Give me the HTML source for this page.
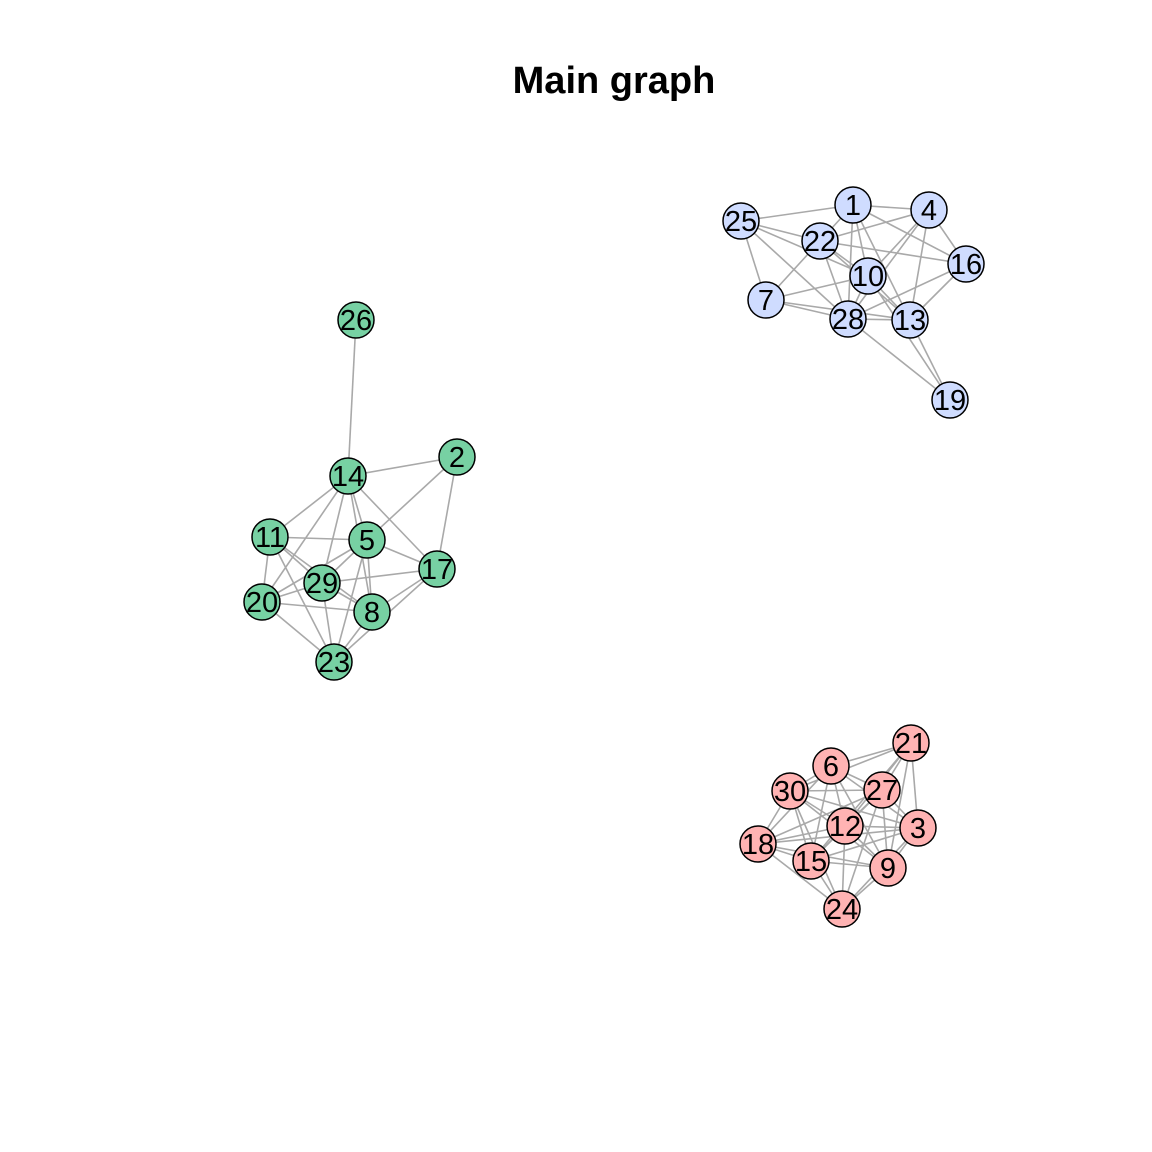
<!DOCTYPE html>
<html><head><meta charset="utf-8"><style>
html,body{margin:0;padding:0;background:#fff;}
svg{display:block;font-family:"Liberation Sans",sans-serif;}
</style></head><body>
<svg id="g" width="1152" height="1152">
<text x="614" y="93" text-anchor="middle" font-size="38" font-weight="bold">Main graph</text>
<g id="edges"></g>
<g id="nodes"></g>
</svg>
<script>
const nodeIds=[26,14,2,11,5,17,29,20,8,23,1,4,25,22,16,10,7,28,13,19,21,6,27,30,12,3,18,15,9,24];
const nodeX=[356,348,457,270,367,437,322,262,372,334,853,929,741,820,966,868,766,848,910,950,911,831,882,790,845,918,758,811,888,842];
const nodeY=[320,476,457,537,540,569,583,602,612,662,205,210,221,241,264,276,300,319,320,400,743,766,790,791,826,828,844,861,868,909];
const nodeGroup=[0,0,0,0,0,0,0,0,0,0,1,1,1,1,1,1,1,1,1,1,2,2,2,2,2,2,2,2,2,2];
const groupColors=["#77d1a3","#cfdcff","#ffb3b3"];
const edges=[[26,14],[14,2],[14,11],[14,5],[14,17],[14,29],[14,20],[14,8],[2,5],[2,17],[11,5],[11,20],[11,29],[11,8],[11,23],[5,29],[5,20],[5,17],[5,8],[5,23],[17,29],[17,8],[17,23],[29,20],[29,8],[29,23],[20,8],[20,23],[8,23],
[25,1],[25,22],[25,10],[25,28],[25,7],[1,4],[1,22],[1,28],[1,10],[1,13],[1,16],[4,22],[4,10],[4,28],[4,13],[4,16],[22,16],[22,7],[22,28],[22,10],[22,13],[10,7],[10,28],[10,13],[16,28],[16,13],[7,28],[7,13],[28,13],[28,19],[13,19],[10,19],
[21,6],[21,30],[21,27],[21,12],[21,3],[21,15],[21,9],[6,30],[6,27],[6,12],[6,18],[6,15],[6,9],[6,3],[30,27],[30,18],[30,12],[30,15],[30,9],[30,3],[30,24],[27,12],[27,18],[27,15],[27,9],[27,3],[27,24],[12,18],[12,3],[12,9],[12,24],[12,15],[18,15],[18,9],[18,3],[18,24],[15,9],[15,24],[15,3],[9,3],[9,24],[3,24]];
const NS="http://www.w3.org/2000/svg";
const eg=document.getElementById('edges'),ng=document.getElementById('nodes');
function idx(id){return nodeIds.indexOf(id);}
edges.forEach(e=>{
 const a=idx(e[0]),b=idx(e[1]);
 const l=document.createElementNS(NS,'line');
 l.setAttribute('x1',nodeX[a]);l.setAttribute('y1',nodeY[a]);
 l.setAttribute('x2',nodeX[b]);l.setAttribute('y2',nodeY[b]);
 l.setAttribute('stroke','#a9a9a9');l.setAttribute('stroke-width','1.6');
 
 
 eg.appendChild(l);
});
nodeIds.forEach((id,i)=>{
 const c=document.createElementNS(NS,'circle');
 c.setAttribute('cx',nodeX[i]);c.setAttribute('cy',nodeY[i]);c.setAttribute('r',18);
 c.setAttribute('fill',groupColors[nodeGroup[i]]);c.setAttribute('stroke','#000');c.setAttribute('stroke-width','1.5');
 
 
 ng.appendChild(c);
 const t=document.createElementNS(NS,'text');
 t.setAttribute('x',nodeX[i]);t.setAttribute('y',nodeY[i]+10);
 t.setAttribute('text-anchor','middle');t.setAttribute('font-size','29');
 t.textContent=id;
 
 
 ng.appendChild(t);
});
</script>
</body></html>
